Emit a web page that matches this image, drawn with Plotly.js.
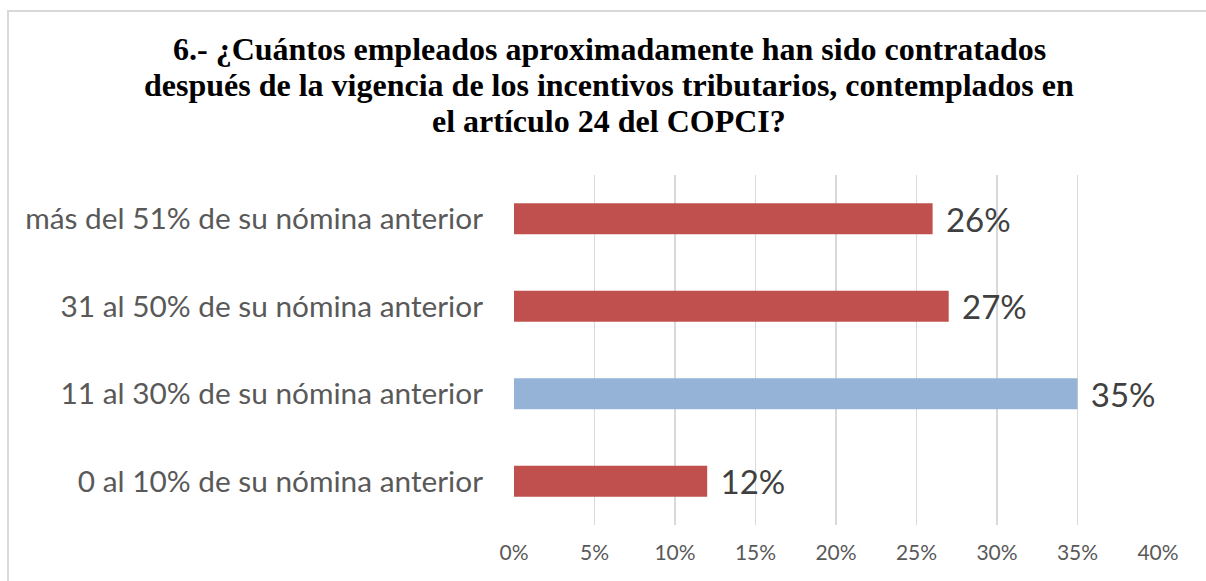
<!DOCTYPE html>
<html>
<head>
<meta charset="utf-8">
<script src="https://cdn.plot.ly/plotly-3.0.1.min.js"></script>
<style>
html,body{margin:0;padding:0;background:#fff;overflow:hidden;}
#frame{position:absolute;left:7px;top:10px;width:1230px;height:620px;border:2px solid #d9d9d9;pointer-events:none;}
#chart{position:absolute;left:0;top:0;width:1206px;height:581px;}
</style>
</head>
<body>
<div id="chart"></div>
<div id="frame"></div>
<script>
const categories = [
  "0 al 10% de su nómina anterior",
  "11 al 30% de su nómina anterior",
  "31 al 50% de su nómina anterior",
  "más del 51% de su nómina anterior"
];
const values = [12, 35, 27, 26];
const barColors = ["#C0504D", "#95B3D7", "#C0504D", "#C0504D"];
const tickVals = [0, 5, 10, 15, 20, 25, 30, 35, 40];
const titleLines = [
  "6.- ¿Cuántos empleados aproximadamente han sido contratados",
  "después de la vigencia de los incentivos tributarios, contemplados en",
  "el artículo 24 del COPCI?"
];

const sans = "Lato, Open Sans, sans-serif";
const serif = "Liberation Serif, Times New Roman, serif";

const trace = {
  type: "bar",
  orientation: "h",
  y: categories,
  x: values,
  marker: {color: barColors},
  text: values.map(v => "\u2009\u2009\u200A" + v + "%"),
  textposition: "outside",
  constraintext: "none",
  cliponaxis: false,
  textfont: {family: sans, size: 33, color: "#404040"},
  hoverinfo: "none"
};

const titleAnnotations = titleLines.map((t, i) => ({
  text: t,
  xref: "paper", yref: "paper",
  x: (609 - 514) / (1206 - 514 - 48),
  y: 1 + (175 - (49 + i * 36)) / (581 - 175 - 56),
  xanchor: "center", yanchor: "middle",
  showarrow: false,
  font: {family: serif, size: 32, color: "#000000", weight: "bold"}
}));

const layout = {
  width: 1206, height: 581,
  margin: {l: 514, r: 48, t: 175, b: 56},
  paper_bgcolor: "#ffffff",
  plot_bgcolor: "#ffffff",
  showlegend: false,
  bargap: 0.645,
  annotations: titleAnnotations,
  xaxis: {
    range: [0, 40],
    tickvals: tickVals,
    ticktext: tickVals.map(v => v + "%"),
    showgrid: true, gridcolor: "#d9d9d9", gridwidth: 1.5,
    zeroline: false, showline: false,
    ticks: "", ticklabelstandoff: 13,
    tickfont: {family: sans, size: 21, color: "#595959"},
    fixedrange: true
  },
  yaxis: {
    showgrid: false, zeroline: false, showline: false,
    ticks: "", ticklabelstandoff: 30,
    tickfont: {family: sans, size: 29.8, color: "#595959"},
    fixedrange: true
  }
};

Plotly.newPlot("chart", [trace], layout, {displayModeBar: false, staticPlot: true});
</script>
</body>
</html>
